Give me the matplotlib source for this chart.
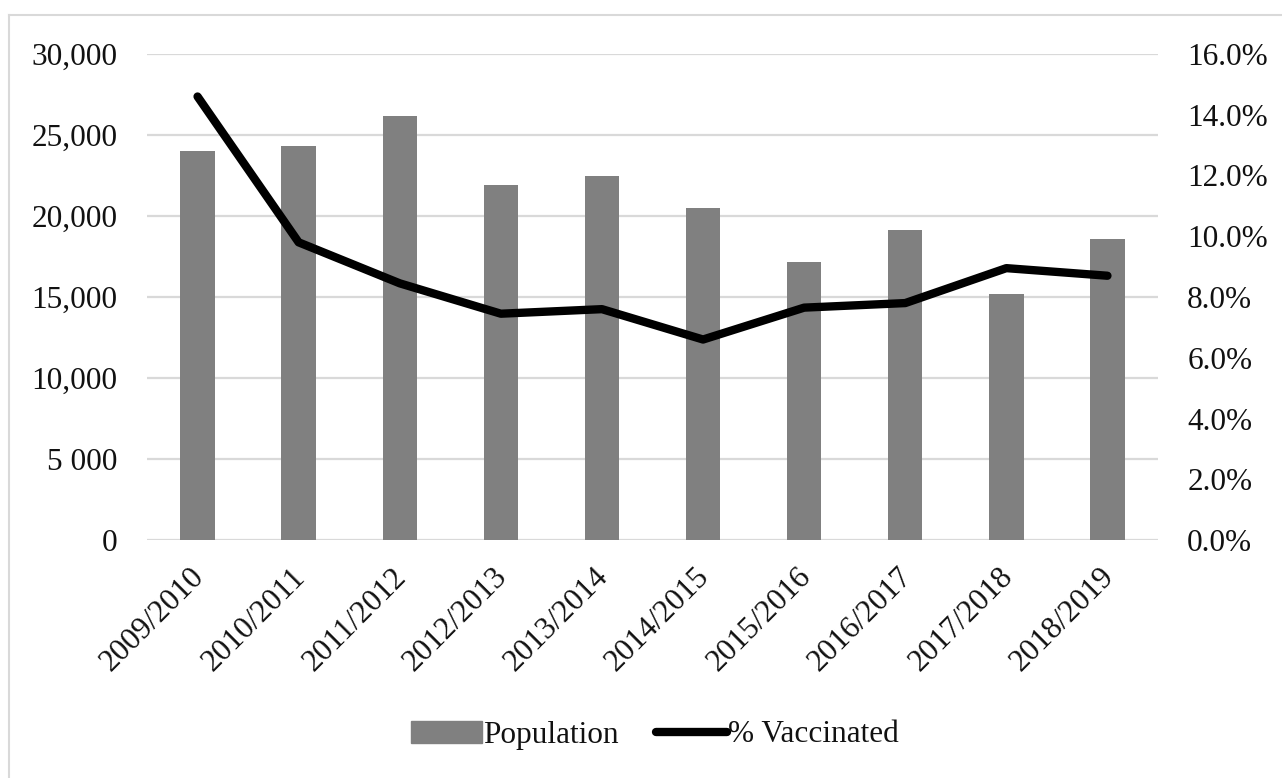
import matplotlib
matplotlib.use("Agg")
import matplotlib.pyplot as plt
import matplotlib.transforms as mtransforms
from matplotlib.ticker import FixedLocator, FuncFormatter
from matplotlib.lines import Line2D

seasons = ["2009/2010", "2010/2011", "2011/2012", "2012/2013", "2013/2014",
           "2014/2015", "2015/2016", "2016/2017", "2017/2018", "2018/2019"]
population = [24000, 24300, 26200, 21900, 22500, 20500, 17150, 19150, 15200, 18600]
pct_vaccinated = [14.6, 9.8, 8.45, 7.45, 7.6, 6.6, 7.65, 7.8, 8.95, 8.7]
left_ticks = [0, 5000, 10000, 15000, 20000, 25000, 30000]
left_tick_labels = ["0", "5 000", "10,000", "15,000", "20,000", "25,000", "30,000"]
right_ticks = [0, 2, 4, 6, 8, 10, 12, 14, 16]

plt.rcParams['font.family'] = ['Liberation Serif', 'DejaVu Serif']
FS = 22.5
TXT = "#111111"

W, H = 1282, 778
fig = plt.figure(figsize=(W / 100, H / 100), dpi=100)
ax = fig.add_axes([147 / W, 1 - 540 / H, (1158 - 147) / W, (540 - 54) / H])
ax2 = ax.twinx()

x = list(range(len(seasons)))
ax.bar(x, population, width=0.34, color="#808080", zorder=2)
ax.set_xlim(-0.5, len(seasons) - 0.5)
ax.set_ylim(0, 30000)
ax.yaxis.set_major_locator(FixedLocator(left_ticks))
ax.set_yticklabels(left_tick_labels)
ax.grid(axis="y", color="#d9d9d9", linewidth=1.6, zorder=0)
ax.set_axisbelow(True)

ax2.plot(x, pct_vaccinated, color="black", linewidth=6, solid_capstyle="round",
         solid_joinstyle="round", zorder=3)
ax2.set_ylim(0, 16)
ax2.yaxis.set_major_locator(FixedLocator(right_ticks))
ax2.yaxis.set_major_formatter(FuncFormatter(lambda v, p: f"{v:.1f}%"))

for a in (ax, ax2):
    for s in a.spines.values():
        s.set_visible(False)
    a.tick_params(length=0, labelsize=FS, colors=TXT)
ax.tick_params(axis="y", pad=21.5)
ax2.tick_params(axis="y", pad=21)

ax.set_xticks(x)
ax.set_xticklabels(seasons, rotation=45, ha="right", va="top",
                   rotation_mode="anchor", fontsize=FS)
ax.tick_params(axis="x", pad=14)
offset = mtransforms.ScaledTranslation(-8 / 100, -3 / 100, fig.dpi_scale_trans)
for lbl in ax.get_xticklabels():
    lbl.set_transform(lbl.get_transform() + offset)

# outer chart frame (top and left visible)
fig.add_artist(Line2D([9 / W, 1], [1 - 15 / H, 1 - 15 / H], transform=fig.transFigure,
                      color="#d9d9d9", linewidth=1.5))
fig.add_artist(Line2D([9 / W, 9 / W], [0, 1 - 15 / H], transform=fig.transFigure,
                      color="#d9d9d9", linewidth=1.5))

handles = [plt.Rectangle((0, 0), 1, 1, color="#808080"),
           Line2D([0], [0], color="black", linewidth=6, solid_capstyle="round")]
fig.legend(handles, ["Population", "% Vaccinated"], loc="center",
           bbox_to_anchor=(655 / W, 1 - 735 / H), ncol=2, frameon=False,
           fontsize=FS, handlelength=2.25, handleheight=0.7, handletextpad=0.05,
           columnspacing=1.2, labelcolor=TXT)

fig.savefig("out.png", dpi=100, facecolor="white")
